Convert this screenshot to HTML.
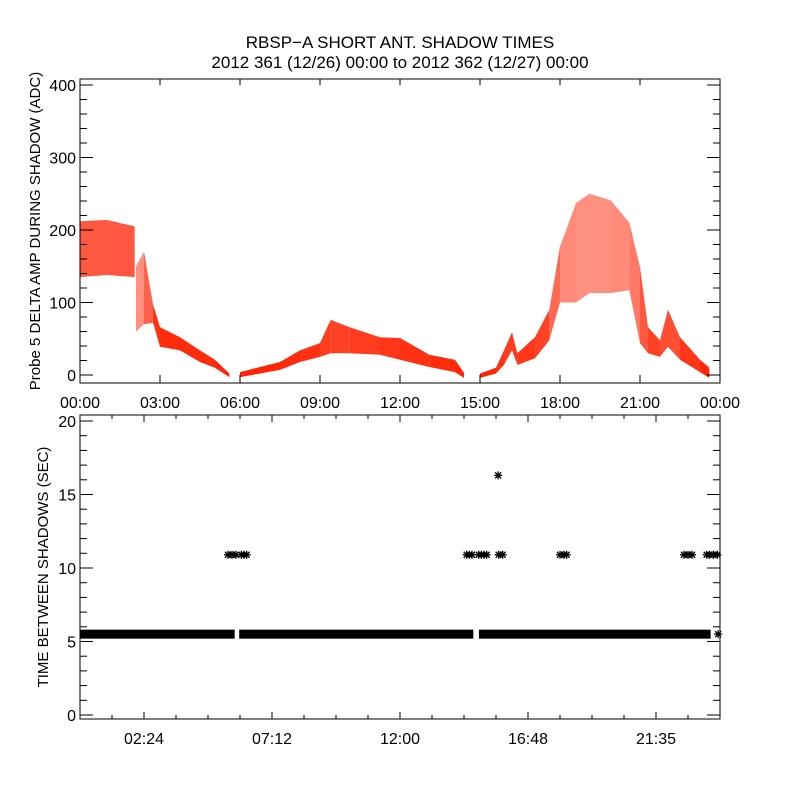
<!DOCTYPE html>
<html><head><meta charset="utf-8"><style>
html,body{margin:0;padding:0;background:#fff;}
svg{display:block;font-family:"Liberation Sans",sans-serif;}
</style></head><body>
<svg id="chart" width="800" height="800" viewBox="0 0 800 800">
<text x="400" y="48" text-anchor="middle" font-size="17">RBSP−A SHORT ANT. SHADOW TIMES</text>
<text x="400" y="68" text-anchor="middle" font-size="17">2012 361 (12/26) 00:00 to 2012 362 (12/27) 00:00</text>
<g id="top"></g>
<g id="bot"></g>
</svg>
<script>
// ---- top panel data (hours, ADC envelope low/high, point density) ----
const ampTimes = [0,1,2.05,null,2.1,2.4,2.74,3.0,3.75,4.5,5.06,5.6,null,6.0,7.5,8.25,9.0,9.4,10.1,11.25,12.0,13.1,14.06,14.4,null,15.0,15.6,15.9,16.2,16.4,17.06,17.6,18.0,18.6,19.1,19.9,20.6,21.0,21.3,21.75,22.05,22.5,23.25,23.6];
const ampLow   = [135,138,135,null,60,70,72,39,34,18,10,-3,null,-3,7,18,25,30,30,28,21,11,4,-4,null,-4,2,14,34,14,23,48,100,100,113,113,117,44,30,25,39,21,4,-4];
const ampHigh  = [212,214,205,null,150,170,97,66,52,34,21,2,null,4,18,34,44,76,66,52,51,28,21,3,null,2,10,34,59,30,52,90,177,237,250,241,210,149,66,48,90,52,21,10];
const ampDens  = [0.75,0.75,0.75,null,0.5,0.5,0.9,0.95,0.95,0.95,0.95,1,null,1,0.95,0.95,0.9,0.85,0.85,0.9,0.9,0.95,0.95,1,null,1,0.95,0.9,0.85,0.9,0.9,0.8,0.55,0.5,0.5,0.5,0.55,0.65,0.85,0.85,0.75,0.85,0.95,1];
const topYTicks = [0,100,200,300,400];
const topXLabels = ["00:00","03:00","06:00","09:00","12:00","15:00","18:00","21:00","00:00"];
// ---- bottom panel data ----
const bandSegs = [[0,5.8],[5.97,14.75],[14.96,23.65]];
const bandValue = 5.5;
const starTimes = [5.55,5.7,5.85,6.05,6.15,6.25,14.5,14.6,14.7,14.95,15.05,15.15,15.25,15.7,15.85,15.68,18.0,18.15,18.25,22.65,22.8,22.95,23.5,23.6,23.75,23.9,23.93];
const starValues= [10.9,10.9,10.9,10.9,10.9,10.9,10.9,10.9,10.9,10.9,10.9,10.9,10.9,10.9,10.9,16.3,10.9,10.9,10.9,10.9,10.9,10.9,10.9,10.9,10.9,10.9,5.5];
const botYTicks = [0,5,10,15,20];
const botXLabels = ["02:24","07:12","12:00","16:48","21:35"];

const NS="http://www.w3.org/2000/svg";
function mk(tag,attrs,parent){const e=document.createElementNS(NS,tag);for(const k in attrs)e.setAttribute(k,attrs[k]);parent.appendChild(e);return e;}
const L=80,R=720;
const xH=h=>L+(h/24)*(R-L);
const T={top:79,bot:383};
const yA=v=>375-v*0.725;
const gt=document.getElementById('top');
for(let i=0;i<ampTimes.length-1;i++){
  if(ampTimes[i]===null||ampTimes[i+1]===null)continue;
  const p=mk('polygon',{points:`${xH(ampTimes[i])},${yA(ampHigh[i])} ${xH(ampTimes[i+1])},${yA(ampHigh[i+1])} ${xH(ampTimes[i+1])},${yA(ampLow[i+1])} ${xH(ampTimes[i])},${yA(ampLow[i])}`,fill:'#ff2000','fill-opacity':(ampDens[i]+ampDens[i+1])/2},gt);
  
  
}
let fr=mk('rect',{x:L,y:T.top,width:R-L,height:T.bot-T.top,fill:'none',stroke:'#000','stroke-width':1},gt);

for(let v=0;v<=400;v+=20){
  const maj=v%100===0,len=maj?13:7,y=yA(v);
  mk('line',{x1:L,y1:y,x2:L+len,y2:y,stroke:'#000'},gt);
  mk('line',{x1:R,y1:y,x2:R-len,y2:y,stroke:'#000'},gt);
}
topYTicks.forEach(v=>{const t=mk('text',{x:76,y:yA(v)+6,'text-anchor':'end','font-size':16},gt);t.textContent=v;
});
topXLabels.forEach((s,i)=>{const x=xH(i*3);
  mk('line',{x1:x,y1:T.bot,x2:x,y2:T.bot-8,stroke:'#000'},gt);
  mk('line',{x1:x,y1:T.top,x2:x,y2:T.top+6,stroke:'#000'},gt);
  const t=mk('text',{x:x,y:408,'text-anchor':'middle','font-size':16},gt);t.textContent=s;
  });
let yt=mk('text',{transform:'translate(40,231) rotate(-90)','text-anchor':'middle','font-size':15},gt);
yt.textContent='Probe 5 DELTA AMP DURING SHADOW (ADC)';

const B={top:415,bot:719};
const yB=v=>715-v*14.7;
const gb=document.getElementById('bot');
bandSegs.forEach(s=>{const r=mk('rect',{x:xH(s[0]),y:yB(bandValue)-4.5,width:xH(s[1])-xH(s[0]),height:9,fill:'#000'},gb);
  });
starTimes.forEach((h,i)=>{const cx=xH(h),cy=yB(starValues[i]);
  const g=mk('g',{stroke:'#000','stroke-width':1.3},gb);
  
  mk('line',{x1:cx-4,y1:cy,x2:cx+4,y2:cy},g);mk('line',{x1:cx,y1:cy-4,x2:cx,y2:cy+4},g);
  mk('line',{x1:cx-3,y1:cy-3,x2:cx+3,y2:cy+3},g);mk('line',{x1:cx-3,y1:cy+3,x2:cx+3,y2:cy-3},g);});
let fb=mk('rect',{x:L,y:B.top,width:R-L,height:B.bot-B.top,fill:'none',stroke:'#000'},gb);

for(let v=0;v<=20;v++){const maj=v%5===0,len=maj?13:7,y=yB(v);
  mk('line',{x1:L,y1:y,x2:L+len,y2:y,stroke:'#000'},gb);mk('line',{x1:R,y1:y,x2:R-len,y2:y,stroke:'#000'},gb);}
botYTicks.forEach(v=>{const t=mk('text',{x:76,y:yB(v)+6,'text-anchor':'end','font-size':16},gb);t.textContent=v;
  });
for(let k=0;k<=20;k++){const x=xH(k*1.2),len=(k%4===2)?7:4;
  mk('line',{x1:x,y1:B.bot,x2:x,y2:B.bot-len,stroke:'#000'},gb);mk('line',{x1:x,y1:B.top,x2:x,y2:B.top+len,stroke:'#000'},gb);}
botXLabels.forEach((s,i)=>{const x=xH(2.4+i*4.8);const t=mk('text',{x:x,y:744,'text-anchor':'middle','font-size':16},gb);t.textContent=s;
  });
let bt=mk('text',{transform:'translate(48,567) rotate(-90)','text-anchor':'middle','font-size':15},gb);
bt.textContent='TIME BETWEEN SHADOWS (SEC)';

</script>
</body></html>
